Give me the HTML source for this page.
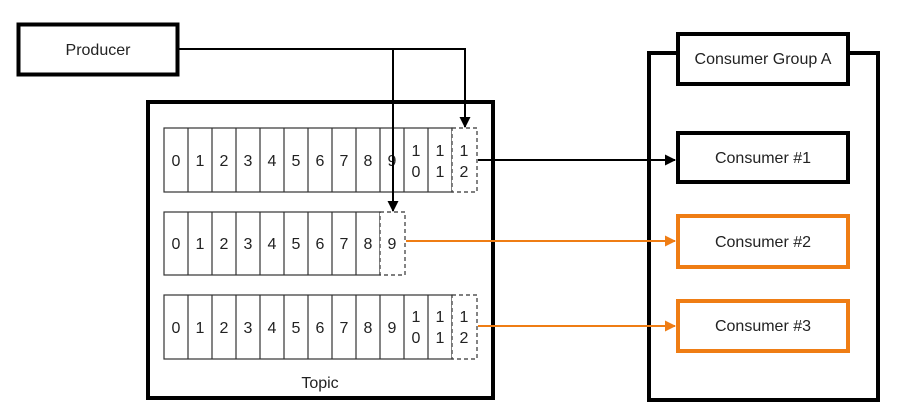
<!DOCTYPE html>
<html><head><meta charset="utf-8"><style>
html,body{margin:0;padding:0;background:#fff}
svg{display:block}
text{font-family:"Liberation Sans",sans-serif;fill:#222}
</style></head><body>
<svg width="906" height="413" viewBox="0 0 906 413" xmlns="http://www.w3.org/2000/svg">
<defs>
<marker id="ab" markerWidth="11" markerHeight="11" refX="10" refY="5.5" orient="auto" markerUnits="userSpaceOnUse"><path d="M0,0 L11,5.5 L0,11 z" fill="#000"/></marker>
<marker id="ao" markerWidth="11" markerHeight="11" refX="10" refY="5.5" orient="auto" markerUnits="userSpaceOnUse"><path d="M0,0 L11,5.5 L0,11 z" fill="#ef7d14"/></marker>
</defs>
<!-- Producer -->
<rect x="18.5" y="24.5" width="159" height="50" fill="#fff" stroke="#000" stroke-width="4"/>
<text x="98" y="55" font-size="16" text-anchor="middle">Producer</text>
<!-- Topic -->
<rect x="148" y="102" width="345" height="296" fill="#fff" stroke="#000" stroke-width="4"/>
<text x="320" y="388" font-size="16" text-anchor="middle">Topic</text>
<g stroke="#333" stroke-width="1.2" fill="#fff">
<rect x="164" y="128" width="288" height="64"/>
<path d="M188,128V192M212,128V192M236,128V192M260,128V192M284,128V192M308,128V192M332,128V192M356,128V192M380,128V192M404,128V192M428,128V192"/>
<rect x="452" y="128" width="25" height="64" stroke-dasharray="4,3"/>
<rect x="164" y="212" width="216" height="63"/>
<path d="M188,212V275M212,212V275M236,212V275M260,212V275M284,212V275M308,212V275M332,212V275M356,212V275"/>
<rect x="380" y="212" width="25" height="63" stroke-dasharray="4,3"/>
<rect x="164" y="295" width="288" height="64"/>
<path d="M188,295V359M212,295V359M236,295V359M260,295V359M284,295V359M308,295V359M332,295V359M356,295V359M380,295V359M404,295V359M428,295V359"/>
<rect x="452" y="295" width="25" height="64" stroke-dasharray="4,3"/>
</g>
<g font-size="16" text-anchor="middle">
<text x="176" y="166">0</text><text x="200" y="166">1</text><text x="224" y="166">2</text><text x="248" y="166">3</text><text x="272" y="166">4</text><text x="296" y="166">5</text><text x="320" y="166">6</text><text x="344" y="166">7</text><text x="368" y="166">8</text><text x="392" y="166">9</text>
<text x="416" y="156">1</text><text x="416" y="177">0</text><text x="440" y="156">1</text><text x="440" y="177">1</text><text x="464" y="156">1</text><text x="464" y="177">2</text>
<text x="176" y="249">0</text><text x="200" y="249">1</text><text x="224" y="249">2</text><text x="248" y="249">3</text><text x="272" y="249">4</text><text x="296" y="249">5</text><text x="320" y="249">6</text><text x="344" y="249">7</text><text x="368" y="249">8</text><text x="392" y="249">9</text>
<text x="176" y="333">0</text><text x="200" y="333">1</text><text x="224" y="333">2</text><text x="248" y="333">3</text><text x="272" y="333">4</text><text x="296" y="333">5</text><text x="320" y="333">6</text><text x="344" y="333">7</text><text x="368" y="333">8</text><text x="392" y="333">9</text>
<text x="416" y="322">1</text><text x="416" y="343">0</text><text x="440" y="322">1</text><text x="440" y="343">1</text><text x="464" y="322">1</text><text x="464" y="343">2</text>
</g>
<!-- producer lines (on top of cells) -->
<polyline points="178,49 465,49 465,127" fill="none" stroke="#000" stroke-width="2" marker-end="url(#ab)"/>
<line x1="393" y1="49" x2="393" y2="211" stroke="#000" stroke-width="2" marker-end="url(#ab)"/>
<!-- Consumer group -->
<rect x="649" y="53" width="229" height="347" fill="#fff" stroke="#000" stroke-width="4"/>
<rect x="678" y="34" width="170" height="50" fill="#fff" stroke="#000" stroke-width="4"/>
<text x="763" y="64" font-size="16" text-anchor="middle">Consumer Group A</text>
<rect x="678" y="133" width="170" height="49" fill="#fff" stroke="#000" stroke-width="4"/>
<text x="763" y="163" font-size="16" text-anchor="middle">Consumer #1</text>
<rect x="678" y="216" width="170" height="51" fill="#fff" stroke="#ef7d14" stroke-width="4"/>
<text x="763" y="247" font-size="16" text-anchor="middle">Consumer #2</text>
<rect x="678" y="301" width="170" height="50" fill="#fff" stroke="#ef7d14" stroke-width="4"/>
<text x="763" y="331" font-size="16" text-anchor="middle">Consumer #3</text>
<!-- consumer arrows -->
<line x1="478" y1="160" x2="675" y2="160" stroke="#000" stroke-width="2" marker-end="url(#ab)"/>
<line x1="406" y1="241" x2="675" y2="241" stroke="#ef7d14" stroke-width="2" marker-end="url(#ao)"/>
<line x1="478" y1="326" x2="675" y2="326" stroke="#ef7d14" stroke-width="2" marker-end="url(#ao)"/>
</svg>
</body></html>
